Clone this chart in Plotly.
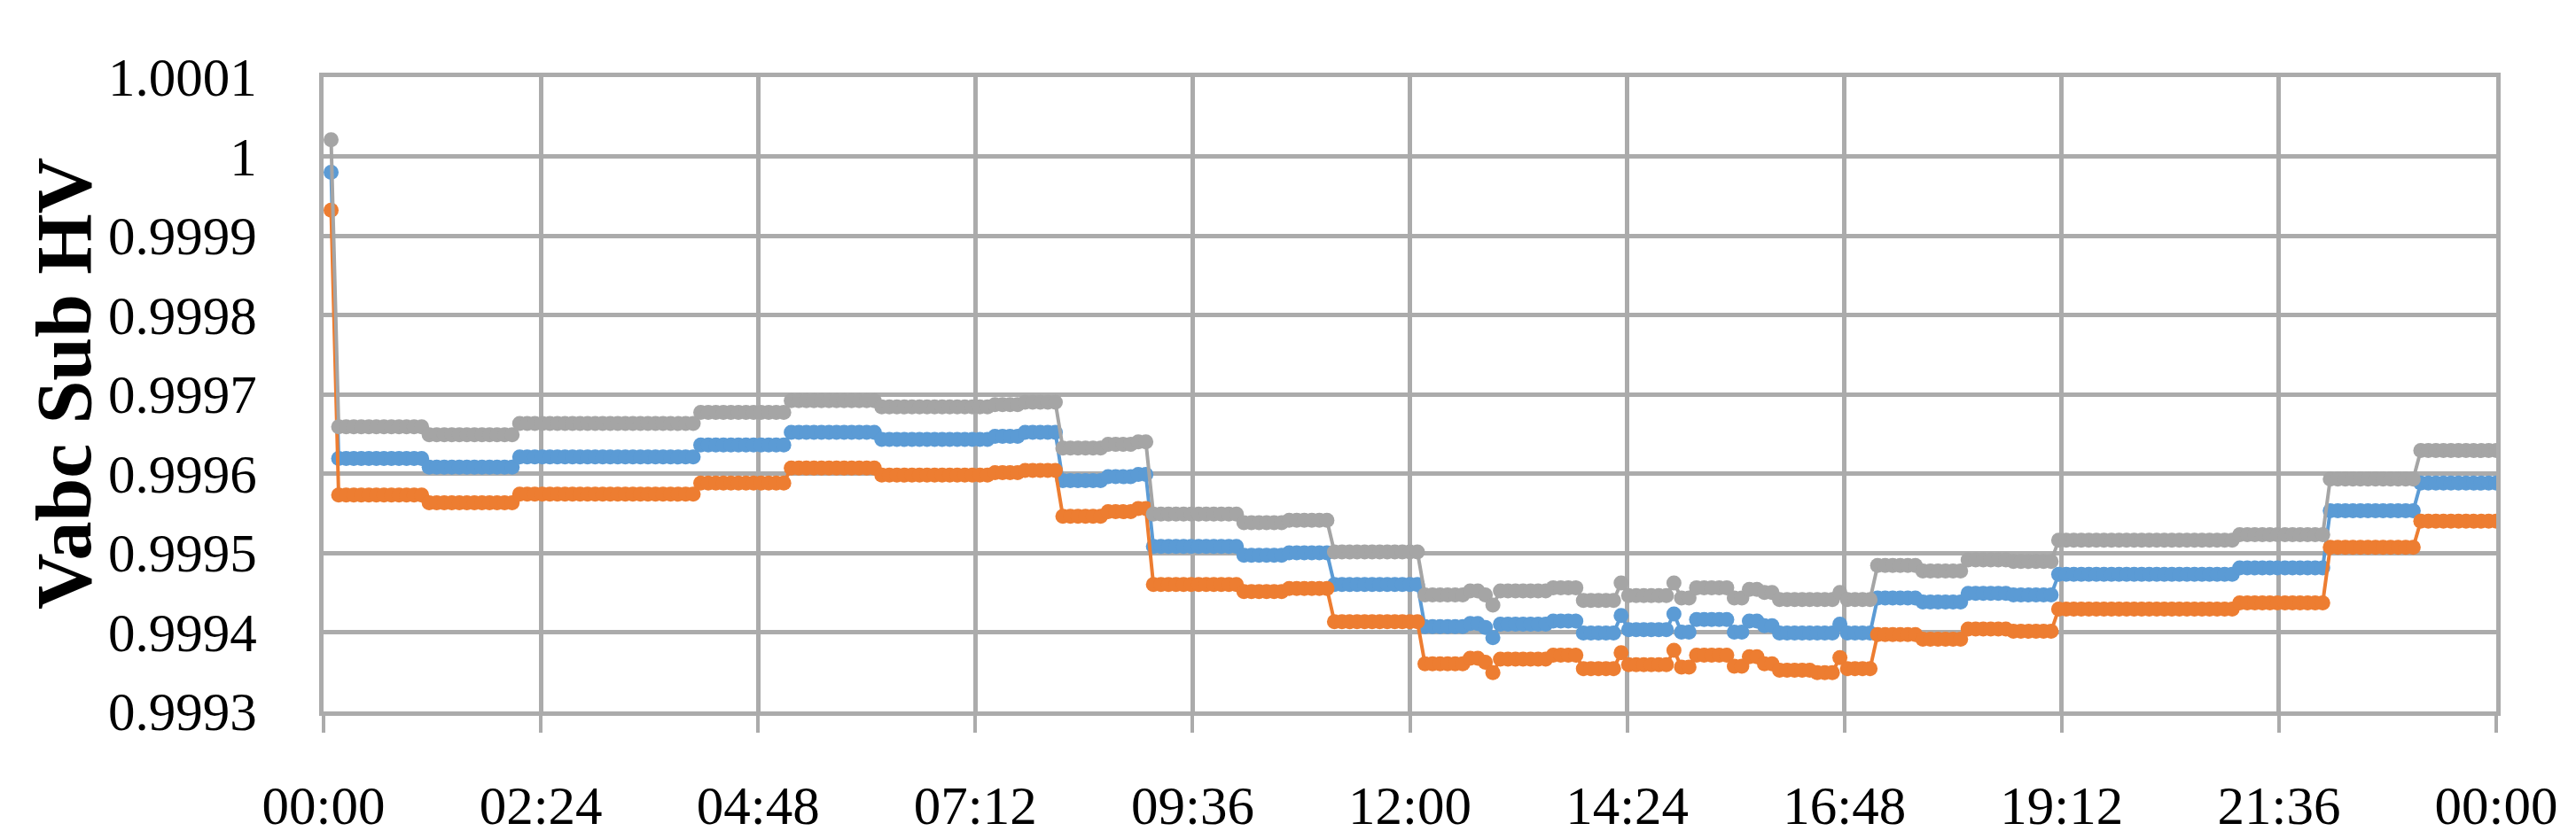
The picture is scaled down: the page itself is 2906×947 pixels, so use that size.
import numpy as np
import pandas as pd
import plotly.graph_objects as go

# Step levels (each level holds until the next start time)
step_start = ["00:05", "00:10", "01:10", "02:10", "04:10", "05:10", "06:10", "07:25", "07:45",
              "08:10", "08:40", "09:00", "09:10", "10:10", "10:40", "11:10", "12:10", "12:40",
              "12:50", "12:55", "13:00", "13:35", "13:55", "14:20", "14:25", "14:55", "15:00",
              "15:10", "15:35", "15:45", "15:55", "16:05", "16:30", "16:45", "16:50", "17:10",
              "17:40", "18:10", "18:40", "19:10", "21:10", "22:10", "23:10"]

phase_c_grey = [1.000021, 0.999659, 0.999649, 0.999663, 0.999677, 0.999692, 0.999684, 0.999687, 0.999690,
                0.999632, 0.999637, 0.999640, 0.999549, 0.999538, 0.999541, 0.999501, 0.999447, 0.999452,
                0.999447, 0.999434, 0.999452, 0.999456, 0.999440, 0.999462, 0.999446, 0.999462, 0.999443,
                0.999456, 0.999443, 0.999454, 0.999450, 0.999441, 0.999441, 0.999450, 0.999441, 0.999484,
                0.999477, 0.999491, 0.999489, 0.999516, 0.999523, 0.999593, 0.999629]

phase_a_blue = [0.999980, 0.999619, 0.999608, 0.999621, 0.999636, 0.999652, 0.999643, 0.999647, 0.999652,
                0.999591, 0.999596, 0.999599, 0.999508, 0.999497, 0.999500, 0.999460, 0.999407, 0.999411,
                0.999406, 0.999393, 0.999410, 0.999414, 0.999399, 0.999421, 0.999403, 0.999423, 0.999400,
                0.999416, 0.999400, 0.999414, 0.999408, 0.999399, 0.999399, 0.999410, 0.999399, 0.999443,
                0.999438, 0.999449, 0.999447, 0.999473, 0.999481, 0.999553, 0.999588]

phase_b_orange = [0.999932, 0.999573, 0.999563, 0.999574, 0.999588, 0.999607, 0.999598, 0.999601, 0.999604,
                  0.999546, 0.999552, 0.999556, 0.999460, 0.999451, 0.999455, 0.999413, 0.999360, 0.999367,
                  0.999362, 0.999349, 0.999366, 0.999371, 0.999354, 0.999374, 0.999359, 0.999377, 0.999356,
                  0.999371, 0.999357, 0.999369, 0.999360, 0.999352, 0.999349, 0.999368, 0.999354, 0.999397,
                  0.999391, 0.999404, 0.999401, 0.999429, 0.999437, 0.999507, 0.999540]

y_tick_vals = [0.9993, 0.9994, 0.9995, 0.9996, 0.9997, 0.9998, 0.9999, 1.0, 1.0001]
y_tick_text = ["0.9993", "0.9994", "0.9995", "0.9996", "0.9997", "0.9998", "0.9999", "1", "1.0001"]
x_tick_text = ["00:00", "02:24", "04:48", "07:12", "09:36", "12:00", "14:24", "16:48", "19:12", "21:36", "00:00"]

# 5-minute samples over the day
day = pd.Timestamp("2020-01-01")
samples = pd.date_range(day + pd.Timedelta("5min"), day + pd.Timedelta("24h"), freq="5min")
sample_min = ((samples - day) / pd.Timedelta("1min")).to_numpy()
start_min = np.array([int(s[:2]) * 60 + int(s[3:]) for s in step_start])
idx = np.searchsorted(start_min, sample_min, side="right") - 1

x_ticks = [day + pd.Timedelta(minutes=144 * i) for i in range(11)]

fig = go.Figure()
for name, vals, color in [("Va", phase_a_blue, "#5B9BD5"),
                          ("Vb", phase_b_orange, "#ED7D31"),
                          ("Vc", phase_c_grey, "#A5A5A5")]:
    v = np.array(vals)[idx]
    fig.add_trace(go.Scatter(x=samples, y=v, mode="lines+markers", name=name,
                             line=dict(color=color, width=4),
                             marker=dict(color=color, size=17, symbol="circle"),
                             showlegend=False))

grid = "#ABABAB"
fig.update_layout(
    width=2906, height=947,
    margin=dict(l=357, r=98, t=79, b=148),
    paper_bgcolor="white", plot_bgcolor="white",
    font=dict(family="Liberation Serif, serif", color="black"),
    xaxis=dict(range=[day, day + pd.Timedelta("24h")], tickvals=x_ticks, ticktext=x_tick_text,
               showgrid=True, gridcolor=grid, gridwidth=4.5,
               showline=True, linecolor=grid, linewidth=5, mirror=True,
               ticks="outside", ticklen=19, tickwidth=4, tickcolor=grid,
               tickfont=dict(size=61, family="Liberation Serif, serif"),
               ticklabelstandoff=30, zeroline=False),
    yaxis=dict(range=[0.9993, 1.0001], tickvals=y_tick_vals, ticktext=y_tick_text,
               showgrid=True, gridcolor=grid, gridwidth=4.5,
               showline=True, linecolor=grid, linewidth=5, mirror=True,
               ticks="", tickfont=dict(size=61, family="Liberation Serif, serif"),
               ticklabelstandoff=58, zeroline=False),
    annotations=[dict(text="<b>Vabc Sub HV</b>", xref="paper", yref="paper",
                      x=(64 - 357) / 2451, y=(799 - 427) / 720, xanchor="center", yanchor="middle",
                      textangle=-90, showarrow=False,
                      font=dict(size=88, family="Liberation Serif, serif", color="black"))],
)

fig.write_html("out.html")
